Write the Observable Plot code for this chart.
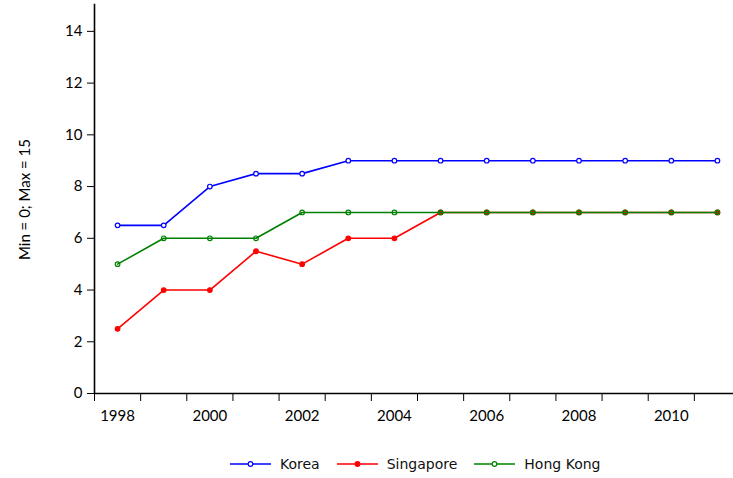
<!DOCTYPE html>
<html><head><meta charset="utf-8">
<script src="https://cdn.jsdelivr.net/npm/d3@7"></script>
<script src="https://cdn.jsdelivr.net/npm/@observablehq/plot@0.6"></script>
<style>
body{margin:0;background:#fff;}
#legend{height:48px;display:flex;justify-content:flex-start;align-items:center;font-family:"DejaVu Sans",sans-serif;font-size:14px;color:#111;padding-left:230px;}
.item{display:flex;align-items:center;margin-right:17px;}
.item svg{margin-right:9px;}
</style></head>
<body>
<div id="chart"></div>
<div id="legend"></div>
<script>
const years = [1998,1999,2000,2001,2002,2003,2004,2005,2006,2007,2008,2009,2010,2011];
const korea = [6.5,6.5,8,8.5,8.5,9,9,9,9,9,9,9,9,9];
const singapore = [2.5,4,4,5.5,5,6,6,7,7,7,7,7,7,7];
const hongKong = [5,6,6,6,7,7,7,7,7,7,7,7,7,7];
const seriesNames = ["Korea","Singapore","Hong Kong"];
const seriesColors = ["#0000ff","#ff0000","#008000"];
const yTicks = [0,2,4,6,8,10,12,14];
const xLabelYears = [1998,2000,2002,2004,2006,2008,2010];

const rows = [];
[korea, singapore, hongKong].forEach((vals, si) => {
  vals.forEach((v, i) => rows.push({series: seriesNames[si], year: years[i], value: v}));
});
const bounds = years.map(y => y - 0.5).concat([years[years.length-1] + 0.5]);

const mk = (name, filled) => {
  const d = rows.filter(r => r.series === name);
  const c = seriesColors[seriesNames.indexOf(name)];
  return [
    Plot.line(d, {x: "year", y: "value", stroke: c, strokeWidth: 1.6}),
    Plot.dot(d, {x: "year", y: "value", r: 2.3, stroke: c, strokeWidth: 1.2, fill: filled ? c : (name === "Korea" ? "white" : "none")})
  ];
};

const chart = Plot.plot({
  width: 733, height: 440,
  marginLeft: 94, marginTop: 5, marginBottom: 47, marginRight: 0,
  style: "font-family: Lato, 'Open Sans', sans-serif; font-size: 15px; color: #000; background: white;",
  x: {domain: [years[0]-0.5, years[years.length-1]+0.5], range: [94, 740]},
  y: {domain: [0, 15], range: [393, 5]},
  marks: [
    Plot.axisY({ticks: yTicks, tickSize: 7, tickPadding: 5, tickFormat: d => d, label: null, fontSize: 15}),
    Plot.text(["Min = 0; Max = 15"], {frameAnchor: "left", textAnchor: "middle", dx: -69, rotate: -90, fontSize: 15, text: d => d}),
    Plot.axisX({ticks: bounds, tickSize: 8, tickFormat: () => "", label: null}),
    Plot.axisX({ticks: xLabelYears, tickSize: 0, tickPadding: 17, tickFormat: d => String(d), label: null, fontSize: 15}),
    Plot.ruleY([0], {stroke: "black", strokeWidth: 1.6}),
    Plot.ruleX([years[0]-0.5], {y1: 0, y2: 15.05, stroke: "black", strokeWidth: 1.6}),
    ...mk("Korea", false),
    ...mk("Singapore", true),
    ...mk("Hong Kong", false)
  ]
});
document.getElementById("chart").append(chart);

const legend = document.getElementById("legend");
seriesNames.forEach((n, i) => {
  const c = seriesColors[i];
  const fill = n === "Singapore" ? c : "white";
  const item = document.createElement("div");
  item.className = "item";
  item.innerHTML = `<svg width="41" height="10"><line x1="0" x2="41" y1="5" y2="5" stroke="${c}" stroke-width="1.6"/><circle cx="20.5" cy="5" r="2.3" fill="${fill}" stroke="${c}" stroke-width="1.2"/></svg><span>${n}</span>`;
  legend.append(item);
});
</script>
</body></html>
